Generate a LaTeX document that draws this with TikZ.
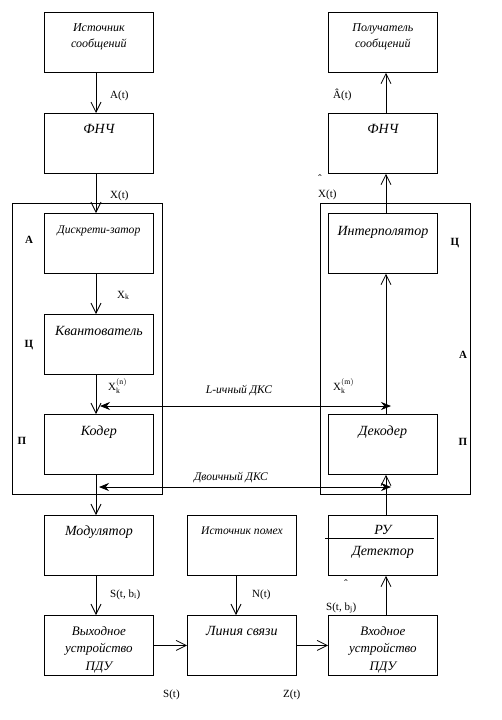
\documentclass[tikz,border=0pt]{standalone}
\usepackage{fontspec}
\setmainfont{Liberation Serif}
\usetikzlibrary{arrows.meta}
\begin{document}
\begin{tikzpicture}[x=1pt,y=-1pt,
  box/.style={draw,line width=0.8pt,minimum width=109pt,minimum height=60pt,inner sep=0pt,anchor=north west},
  frm/.style={draw,line width=0.8pt,minimum width=150pt,minimum height=291pt,inner sep=0pt,anchor=north west},
  big/.style={anchor=base,inner sep=0pt,font=\fontsize{14}{16}\selectfont\itshape},
  mid/.style={anchor=base,inner sep=0pt,font=\fontsize{13}{15}\selectfont\itshape},
  sml/.style={anchor=base,inner sep=0pt,font=\fontsize{12}{14}\selectfont\itshape},
  tiny/.style={anchor=base,inner sep=0pt,font=\fontsize{11.6}{14}\selectfont\itshape},
  sig/.style={anchor=base west,inner sep=0pt,font=\fontsize{11}{13}\selectfont},
  hat/.style={anchor=center,inner sep=0pt,font=\fontsize{11}{13}\selectfont},
  side/.style={anchor=base,inner sep=0pt,font=\fontsize{11}{13}\selectfont\bfseries},
  flow/.style={line width=0.8pt,-{Straight Barb[length=10pt,width=10pt]}},
  dks/.style={line width=0.8pt,{Stealth[length=10pt,width=8pt]}-{Stealth[length=10pt,width=8pt]}}
]
\useasboundingbox (0,0) rectangle (501,720);
% frames
\node[frm] (lfr) at (12,203) {};
\node[frm] (rfr) at (320,203) {};
% boxes left
\node[box] (src) at (44,12) {};
\node[box] (lpf1) at (44,113) {};
\node[box] (disc) at (44,213) {};
\node[box] (quant) at (44,314) {};
\node[box] (cod) at (44,414) {};
\node[box] (mod) at (44,515) {};
\node[box] (tx) at (44,615) {};
% middle
\node[box] (noise) at (187,515) {};
\node[box] (chan) at (187,615) {};
% right
\node[box] (dst) at (328,12) {};
\node[box] (lpf2) at (328,113) {};
\node[box] (interp) at (328,213) {};
\node[box] (dec) at (328,414) {};
\node[box] (ru) at (328,515) {};
\node[box] (rx) at (328,615) {};
\draw[line width=0.8pt] ([xshift=-3pt,yshift=-23pt]ru.north west) -- ([xshift=-4pt,yshift=-23pt]ru.north east);
% box texts
\node[sml] (t1) at (src.north |- 0,31) {Источник};
\node[sml] (t2) at (src.north |- 0,47) {сообщений};
\node[big] (t3) at (lpf1.north |- 0,133) {ФНЧ};
\node[tiny] (t4) at (disc.north |- 0,233) {Дискрети-затор};
\node[big] (t5) at (quant.north |- 0,335) {Квантователь};
\node[big] (t6) at (cod.north |- 0,435) {Кодер};
\node[big] (t7) at (mod.north |- 0,535) {Модулятор};
\node[mid] (t8) at (tx.north |- 0,635) {Выходное};
\node[mid] (t9) at (tx.north |- 0,652) {устройство};
\node[mid] (t10) at (tx.north |- 0,670) {ПДУ};
\node[tiny] (t11) at (noise.north |- 0,534) {Источник помех};
\node[big] (t12) at (chan.north |- 0,635) {Линия связи};
\node[sml] (t13) at (dst.north |- 0,31) {Получатель};
\node[sml] (t14) at (dst.north |- 0,47) {сообщений};
\node[big] (t15) at (lpf2.north |- 0,133) {ФНЧ};
\node[big] (t16) at (interp.north |- 0,235) {Интерполятор};
\node[big] (t17) at (dec.north |- 0,435) {Декодер};
\node[big] (t18) at (ru.north |- 0,534) {РУ};
\node[big] (t19) at (ru.north |- 0,555) {Детектор};
\node[mid] (t20) at (rx.north |- 0,635) {Входное};
\node[mid] (t21) at (rx.north |- 0,652) {устройство};
\node[mid] (t22) at (rx.north |- 0,670) {ПДУ};
% side letters
\node[side] (sa1) at (29,243) {А};
\node[side] (sc1) at (29,347) {Ц};
\node[side] (sp1) at (22,444) {П};
\node[side] (sc2) at (455,245) {Ц};
\node[side] (sa2) at (463,358) {А};
\node[side] (sp2) at (463,445) {П};
% connectors
\coordinate (lc) at (96,0);
\coordinate (mc) at (236,0);
\coordinate (rc) at (386,0);
\draw[flow] (src.south -| lc) -- (lpf1.north -| lc);
\draw[flow] (lpf1.south -| lc) -- (disc.north -| lc);
\draw[flow] (disc.south -| lc) -- (quant.north -| lc);
\draw[flow] (quant.south -| lc) -- (cod.north -| lc);
\draw[flow] (cod.south -| lc) -- (mod.north -| lc);
\draw[flow] (mod.south -| lc) -- (tx.north -| lc);
\draw[flow] (tx.east) -- (chan.west);
\draw[flow] (chan.east) -- (rx.west);
\draw[flow] (noise.south -| mc) -- (chan.north -| mc);
\draw[flow] (rx.north -| rc) -- (ru.south -| rc);
\draw[flow] (ru.north -| rc) -- (dec.south -| rc);
\draw[flow] (dec.north -| rc) -- (interp.south -| rc);
\draw[flow] (interp.north -| rc) -- (lpf2.south -| rc);
\draw[flow] (lpf2.north -| rc) -- (dst.south -| rc);
\coordinate (lL) at (100,406);
\coordinate (lR) at (391,406);
\coordinate (bL) at (99,487);
\coordinate (bR) at (391,487);
\draw[dks] (lL) -- (lR);
\draw[dks] (bL) -- (bR);
% signal labels
\node[sig] (s1) at (110,98) {A(t)};
\node[sig] (s2) at (110,198) {X(t)};
\node[sig] (s3) at (117,298) {X\textsubscript{k}};
\node[sig] (s4) at (108,390) {$\mathrm{X}_{\mathrm{k}}^{(\mathrm{n})}$};
\node[sig] (s5) at (333,390) {$\mathrm{X}_{\mathrm{k}}^{(\mathrm{m})}$};
\node[tiny] (s6) at (239,393) {L-ичный ДКС};
\node[tiny] (s7) at (231,480) {Двоичный ДКС};
\node[sig] (s8) at (110,597) {S(t, b\textsubscript{i})};
\node[sig] (s9) at (252,597) {N(t)};
\node[hat] (s10) at (346,584) {ˆ};
\node[sig] (s11) at (326,610) {S(t, b\textsubscript{j})};
\node[sig] (s12) at (163,697) {S(t)};
\node[sig] (s13) at (283,697) {Z(t)};
\node[sig] (s14) at (333,98) {Â(t)};
\node[hat] (s15) at (320,179) {ˆ};
\node[sig] (s16) at (318,197) {X(t)};
\end{tikzpicture}
\end{document}
